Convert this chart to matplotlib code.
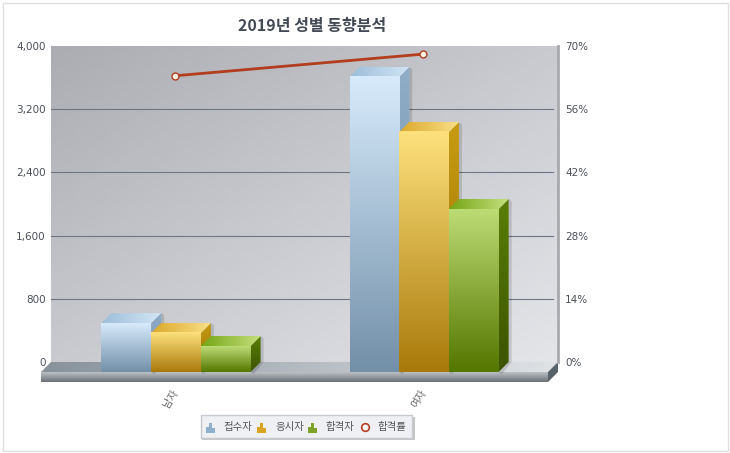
import numpy as np
import matplotlib
matplotlib.use("Agg")
import matplotlib.pyplot as plt
from matplotlib.colors import LinearSegmentedColormap
from matplotlib.patches import Polygon, Rectangle
from matplotlib.lines import Line2D
from matplotlib.transforms import ScaledTranslation

plt.rcParams['font.family'] = ['Noto Sans CJK KR', 'DejaVu Sans']

categories = ['남자', '여자']
series_names = ['접수자', '응시자', '합격자']
applied = [620, 3735]
attended = [494, 3038]
passed = [329, 2063]
pass_rate = [63.4, 68.2]
left_ticks = [0, 800, 1600, 2400, 3200, 4000]
right_ticks = [0, 14, 28, 42, 56, 70]

W, H = 730, 453
# front / top / side colours per series
styles = [
    dict(front=('#d6eafb', '#7390a9'), top=('#9dbdd8', '#d2e5f5'), side=('#8fadc8', '#6d8aa3')),
    dict(front=('#fde07c', '#a97a0b'), top=('#dba92c', '#f9df86'), side=('#c79c12', '#916a06')),
    dict(front=('#bcdb74', '#557700'), top=('#76a616', '#c4df7c'), side=('#5a7d08', '#3c5400')),
]

fig = plt.figure(figsize=(W / 100, H / 100), dpi=100, facecolor='white')
fig.add_artist(Rectangle((2.5 / W, 1 - 450.5 / H), 725 / W, 448 / H, transform=fig.transFigure,
                         fc='white', ec='#dfdfdf', lw=1, zorder=-1))

ax = fig.add_axes([51 / W, 1 - 362 / H, 507 / W, 316 / H])
xlim = (-0.5, 1.544)
ylim = (0, 4000)
ax.set_xlim(xlim)
ax.set_ylim(ylim)
ax.autoscale(False)
ax.set_facecolor('#c8c9ce')
for s in ax.spines.values():
    s.set_visible(False)

dx = 10 / 248.0   # depth of the 3d offset in x units
dy = 10 * 4000 / 316.0   # same for y units


def grad(c1, c2, extent, vertical=True, clip=None, z=2):
    cmap = LinearSegmentedColormap.from_list('g', [c1, c2])
    t = np.linspace(0, 1, 64)
    img = t.reshape(-1, 1) if vertical else t.reshape(1, -1)
    im = ax.imshow(img, cmap=cmap, extent=extent, origin='upper', aspect='auto',
                   vmin=0, vmax=1, zorder=z, interpolation='bilinear')
    if clip is not None:
        # faces go below the axes box, so clip to the figure and the polygon only
        im.set_clip_path(Polygon(clip, closed=True, transform=ax.transData))
        im.set_clip_box(fig.bbox)
    else:
        im.set_clip_on(False)
    return im


# back wall, diagonal gradient
u, v = np.meshgrid(np.linspace(0, 1, 80), np.linspace(0, 1, 60))
wall_cmap = LinearSegmentedColormap.from_list('wall', ['#abadb2', '#c9cacf', '#e4e5e9'])
ax.imshow((u + v) / 2, cmap=wall_cmap, extent=(xlim[0], xlim[1], ylim[0], ylim[1]), origin='upper',
          aspect='auto', vmin=0, vmax=1, zorder=0)

for t in left_ticks[1:-1]:
    ax.plot([xlim[0], xlim[1] - 0.02], [t, t], color='#6f7683', lw=0.8, zorder=1)

# floor
xa, xb = xlim
floor = [(xa, 0), (xb, 0), (xb - dx, -dy), (xa - dx, -dy)]
grad('#88929b', '#dfe2e5', (xa - dx, xb, -dy, 0), vertical=False, clip=floor, z=1.5)
grad('#bcc1c5', '#6a7076', (xa - dx, xb - dx, -2 * dy, -dy), z=1.6)
side = Polygon([(xb - dx, -dy), (xb, 0), (xb, -dy), (xb - dx, -2 * dy)], closed=True,
               fc='#586068', ec='none', zorder=1.6, clip_on=False)
ax.add_patch(side)

# 3d bars
all_values = [applied, attended, passed]
bar_w = 49.7 / 248.0
for i, vals in enumerate(all_values):
    st = styles[i]
    for c, val in enumerate(vals):
        x0 = c + (i - 1.5) * bar_w + 1 / 248.0
        x1 = x0 + bar_w
        y0 = -dy
        y1 = val - dy
        z = 3 + i + c * 5
        ax.add_patch(Polygon([(x1 + dx, y1 + dy), (x1 + dx + 3 / 248.0, y1 + dy - 30), (x1 + dx + 3 / 248.0, 0),
                              (x1 + 3 / 248.0, y0 - 30), (x1, y0)],
                             closed=True, fc='black', alpha=0.13, ec='none', zorder=z, clip_on=False))
        side_p = [(x1, y0), (x1 + dx, y0 + dy), (x1 + dx, y1 + dy), (x1, y1)]
        grad(st['side'][0], st['side'][1], (x1, x1 + dx, y0, y1 + dy), clip=side_p, z=z)
        top_p = [(x0, y1), (x1, y1), (x1 + dx, y1 + dy), (x0 + dx, y1 + dy)]
        grad(st['top'][0], st['top'][1], (x0, x1 + dx, y1, y1 + dy), vertical=False, clip=top_p, z=z)
        grad(st['front'][0], st['front'][1], (x0, x1, y0, y1), z=z + 0.2)

ax.set_xlim(xlim)
ax.set_ylim(ylim)
ax.set_yticks(left_ticks)
ax.set_yticklabels([f'{t:,}' for t in left_ticks], fontsize=7.5, color='#4a4f58', family='DejaVu Sans')
ax.tick_params(axis='y', length=0, pad=4)
ax.set_xticks([0, 1])
ax.set_xticklabels(categories, rotation=58, fontsize=7.5, color='#666666')
ax.tick_params(axis='x', length=0, pad=19)
for lab in ax.get_xticklabels():
    lab.set_transform(lab.get_transform() + ScaledTranslation(-4 / 100, 0, fig.dpi_scale_trans))

# rate line on the right axis
ax2 = ax.twinx()
ax2.set_xlim(xlim)
ax2.set_ylim(0, 70)
for s in ax2.spines.values():
    s.set_visible(False)
ax2.spines['right'].set_visible(True)
ax2.spines['right'].set_color('#a8a9ad')
ax2.spines['right'].set_linewidth(2)
ax2.plot([0, 1], pass_rate, color='#b33d1f', lw=2, marker='o', ms=5,
         mfc='#fff2e4', mec='#b33d1f', mew=1, zorder=10)
ax2.set_yticks(right_ticks)
ax2.set_yticklabels([f'{t}%' for t in right_ticks], fontsize=7.5, color='#4a4f58', family='DejaVu Sans')
ax2.tick_params(axis='y', length=0, pad=5)

fig.text(312.5 / W, 1 - 26 / H, '2019년 성별 동향분석', ha='center', va='center', fontsize=11.5,
         fontweight='bold', color='#444a55')

# legend box
fig.add_artist(Rectangle((202 / W, 1 - 440 / H), 213 / W, 23 / H, transform=fig.transFigure,
                         fc='#c4c6c8', ec='none'))
fig.add_artist(Rectangle((200.5 / W, 1 - 438 / H), 212 / W, 23 / H, transform=fig.transFigure,
                         fc='#eef0f4', ec='#c6c9cd', lw=1))
icon_cols = ['#8fb0cb', '#d9a520', '#7ea32a']
icon_x = [206, 257, 308]
text_x = [223, 275, 325]
bar_shape = [6, 10, 5]
for k in range(3):
    for j in range(3):
        h = bar_shape[j]
        fig.add_artist(Rectangle(((icon_x[k] + j * 3.2) / W, 1 - 432.5 / H), 3 / W, h / H,
                                 transform=fig.transFigure, fc=icon_cols[k], ec='none'))
    fig.text(text_x[k] / W, 1 - 427 / H, series_names[k], ha='left', va='center', fontsize=7.5, color='#555555')
fig.add_artist(Line2D([364.5 / W], [1 - 427 / H], marker='o', ms=5.5, mfc='white', mec='#b33d1f', mew=1.2,
                      transform=fig.transFigure))
fig.text(377 / W, 1 - 427 / H, '합격률', ha='left', va='center', fontsize=7.5, color='#555555')

fig.savefig('out.png', dpi=100)
